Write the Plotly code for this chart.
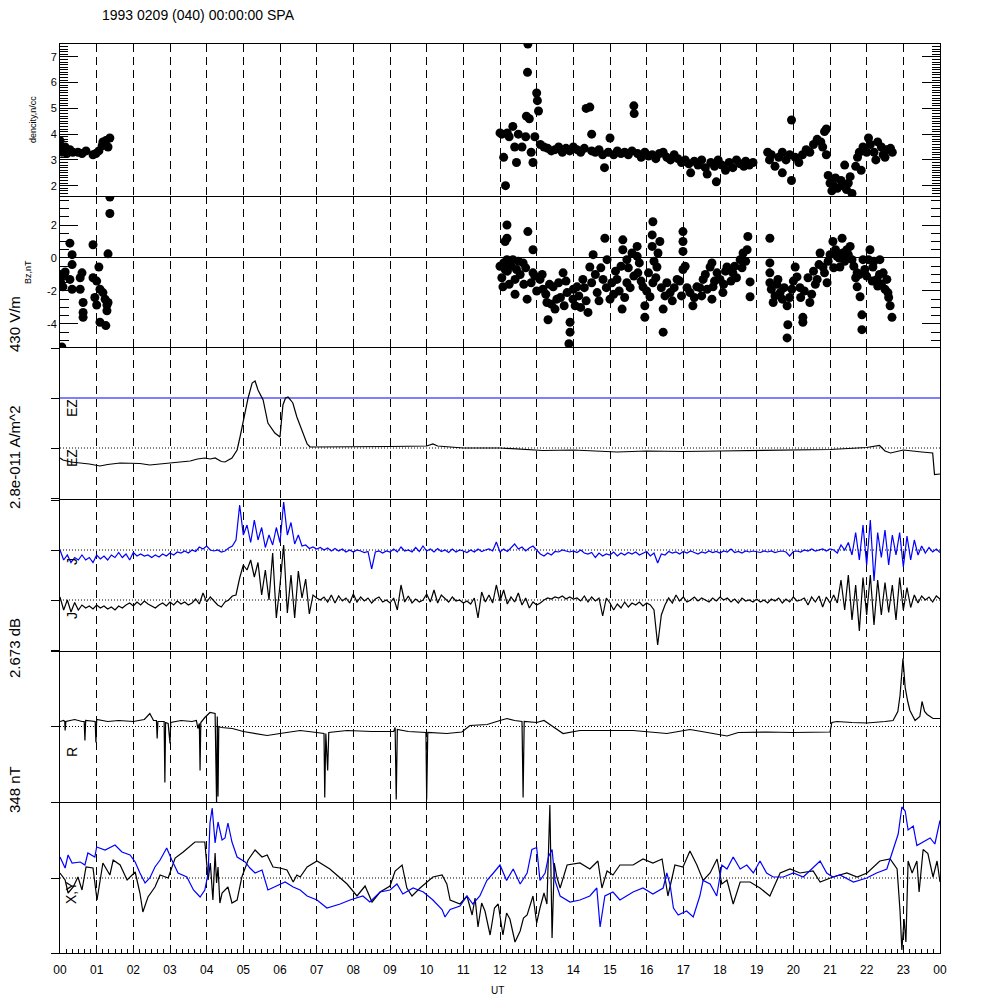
import plotly.graph_objects as go

# ---------------- data ----------------
hour_labels = ["00", "01", "02", "03", "04", "05", "06", "07", "08", "09", "10", "11",
               "12", "13", "14", "15", "16", "17", "18", "19", "20", "21", "22", "23", "00"]
hour_ticks = list(range(25))

# density, n/cc  (UT hours, value)
dens_t = [0.0, 0.0, 0.05, 0.14, 0.19, 0.27, 0.35, 0.49, 0.6, 0.71, 0.9, 0.98, 1.06, 1.15, 1.17, 1.25, 1.31, 1.36,
          12.0, 12.05, 12.1, 12.15, 12.2, 12.25, 12.35, 12.4, 12.45, 12.5, 12.6, 12.7, 12.72, 12.75, 12.76, 12.8,
          12.85, 12.9, 12.95, 13.0, 13.02, 13.05, 13.1, 13.2, 13.3, 13.4, 13.5, 13.6, 13.7, 13.8, 13.9, 14.0,
          14.1, 14.2, 14.3, 14.35, 14.45, 14.5, 14.5, 14.6, 14.7, 14.8, 14.85, 14.95, 15.0, 15.1, 15.2, 15.3,
          15.4, 15.5, 15.6, 15.65, 15.66, 15.75, 15.85, 15.95, 16.05, 16.15, 16.25, 16.35, 16.45, 16.55, 16.65,
          16.75, 16.85, 16.95, 17.05, 17.15, 17.2, 17.3, 17.4, 17.5, 17.6, 17.65, 17.75, 17.85, 17.9, 17.95,
          18.05, 18.15, 18.25, 18.35, 18.45, 18.55, 18.65, 18.7, 18.8, 18.9,
          19.3, 19.35, 19.4, 19.5, 19.6, 19.7, 19.7, 19.8, 19.9, 19.95, 19.95, 20.05, 20.15, 20.25, 20.35, 20.45,
          20.55, 20.65, 20.75, 20.8, 20.85, 20.9, 20.9,
          20.95, 21.0, 21.05, 21.1, 21.15, 21.2, 21.3, 21.35, 21.4, 21.45, 21.5, 21.55, 21.6,
          21.7, 21.75, 21.8, 21.85, 21.9, 22.0, 22.05, 22.1, 22.2, 22.25, 22.3, 22.4, 22.45, 22.5, 22.55, 22.65, 22.7]
dens_v = [3.75, 3.45, 3.3, 3.5, 3.25, 3.4, 3.3, 3.3, 3.25, 3.35, 3.2, 3.25, 3.35, 3.55, 3.7, 3.75, 3.5, 3.85,
          4.05, 4.0, 3.1, 2.0, 4.05, 3.9, 4.3, 3.5, 2.9, 4.0, 3.5, 3.9, 4.7, 6.4, 7.5, 4.6,
          3.3, 2.9, 3.9, 5.6, 5.3, 4.9, 3.6, 3.5, 3.45, 3.35, 3.4, 3.5, 3.3, 3.45, 3.35, 3.5,
          3.4, 3.3, 3.45, 5.0, 5.05, 4.0, 3.35, 3.3, 3.4, 3.2, 2.7, 3.3, 3.85, 3.2, 3.35, 3.25,
          3.3, 3.2, 3.35, 5.1, 4.8, 3.25, 3.1, 3.3, 3.15, 3.2, 3.05, 3.25, 3.3, 3.1, 3.0,
          3.2, 3.05, 2.9, 3.0, 2.85, 2.5, 2.95, 2.8, 3.0, 2.7, 2.45, 2.9, 2.75, 2.15, 3.0,
          2.8, 2.6, 2.9, 2.7, 3.0, 2.85, 2.75, 2.95, 2.8, 2.9,
          3.3, 3.0, 3.2, 2.75, 3.1, 3.3, 2.5, 3.0, 3.2, 4.55, 2.2, 3.1, 2.9, 3.2, 3.4, 3.3,
          3.6, 3.8, 3.7, 3.5, 4.1, 4.2, 3.2,
          2.4, 2.1, 1.8, 2.0, 2.3, 1.9, 2.2, 2.0, 2.8, 1.85, 2.1, 2.35, 1.7,
          2.75, 3.1, 3.3, 2.6, 3.5, 3.3, 3.85, 3.6, 3.3, 3.0, 3.7, 3.5, 3.2, 3.1, 3.4, 3.45, 3.3]

# Bz, nT
bz_t = [0.0, 0.02, 0.05, 0.08, 0.1, 0.14, 0.27, 0.27, 0.33, 0.33, 0.33, 0.55, 0.55, 0.6, 0.63, 0.63, 0.63,
        0.9, 0.9, 0.95, 1.0, 1.0, 1.06, 1.09, 1.09, 1.17, 1.23, 1.25, 1.28, 1.28, 1.31, 1.31, 1.36, 1.36,
        12.19, 12.19, 12.14, 12.19, 12.14, 12.08, 12.35, 12.41, 12.41, 12.63, 12.76, 12.9, 12.74, 12.9, 13.09,
        13.17, 13.28, 13.31, 13.55, 13.45, 13.72, 13.83, 13.91, 13.91, 13.88, 13.99, 14.1, 14.26, 14.4, 14.45,
        14.54, 14.65, 14.81, 14.86, 14.92, 15.0, 15.19, 15.33, 15.35, 15.35, 15.46, 15.46, 15.74, 15.74, 15.76,
        15.9, 15.95, 15.95, 16.17, 16.15, 16.15, 16.36, 16.31, 16.28, 16.17, 16.09, 16.45, 16.45, 16.64, 16.83,
        16.99, 16.99, 16.99, 16.99, 17.18, 17.26, 17.37, 17.54, 17.78, 17.92,
        17.73, 17.81, 17.78, 18.0, 18.08, 18.19, 18.35, 18.55, 18.63, 18.74, 18.76, 18.82, 18.82,
        19.36, 19.36, 19.36, 19.36, 19.45, 19.58, 19.64, 19.83, 19.85, 19.83, 19.96, 20.05, 20.1, 20.18, 20.26,
        20.26, 20.45, 20.65, 20.73, 20.81, 20.92, 21.08, 21.19, 21.27, 21.33, 21.46, 21.55, 21.6, 21.74, 21.74,
        21.82, 21.87, 21.87, 21.9, 22.09, 22.17, 22.28, 22.36, 22.45, 22.55, 22.58, 22.64, 22.69,
        12.0, 12.05, 12.1, 12.2, 12.25, 12.3, 12.45, 12.5, 12.55, 12.65, 12.7, 12.85, 12.95, 13.0, 13.15, 13.25,
        13.35, 13.4, 13.5, 13.6, 13.65, 13.75, 13.8, 14.0, 14.05, 14.15, 14.2, 14.3, 14.35, 14.5, 14.6, 14.7,
        14.75, 14.9, 15.05, 15.1, 15.15, 15.25, 15.3, 15.4, 15.5, 15.55, 15.6, 15.65, 15.8, 15.85, 16.0, 16.05,
        16.2, 16.25, 16.4, 16.5, 16.55, 16.7, 16.75, 16.9, 16.95, 17.05, 17.1, 17.3, 17.45, 17.5, 17.6, 17.65,
        17.85, 18.1, 18.15, 18.3, 18.4, 18.45, 18.6, 18.7, 19.4, 19.5, 19.55, 19.7, 19.75, 19.9, 20.0, 20.2,
        20.3, 20.4, 20.5, 20.55, 20.6, 20.7, 20.85, 20.95, 21.0, 21.1, 21.15, 21.25, 21.35, 21.4, 21.5, 21.65,
        21.7, 21.8, 21.95, 22.0, 22.05, 22.15, 22.2, 22.3, 22.35, 22.4, 22.5, 22.6]
bz_v = [-1.0, -1.5, -5.4, -1.75, -1.1, -0.85, 0.9, -1.3, 0.2, -0.4, -1.9, -1.2, -1.9, -0.9, -2.7, -3.3, -3.6,
        0.8, -1.2, -2.4, -1.4, -2.85, -0.55, -1.9, -3.9, -2.1, -2.5, -4.1, -2.85, -3.2, 0.25, -2.7, 2.7, 3.7,
        2.0, 1.2, 1.0, -0.1, -0.7, -1.75, -0.1, -1.3, -2.2, -0.3, 1.6, 0.5, -2.5, -0.9, -1.3,
        -1.9, -2.7, -3.75, -2.5, -1.75, -0.9, -2.1, -3.9, -4.5, -5.2, -2.5, -1.75, -1.3, -3.3, -0.55,
        0.2, -2.1, -1.3, 1.2, -0.1, -2.5, -1.3, -3.1, 1.1, 0.5, -0.1, -1.5, 0.7, 0.1, -0.9,
        -1.75, -2.9, -3.6, 2.2, 1.4, 0.7, 1.0, 0.3, -0.55, -1.5, -2.35, -3.1, -4.5, -2.1, -1.3,
        -0.7, 1.6, 1.0, 0.4, -2.1, -2.9, -1.75, -1.3, -0.3, -0.9,
        -0.55, -1.75, -2.5, -1.3, -2.1, -0.55, -0.9, -0.1, 0.3, 0.5, 1.3, -1.45, -2.35,
        1.2, -0.3, -0.9, -1.5, -2.7, -1.3, -2.1, -2.9, -4.05, -4.85, -1.9, -0.55, -1.15, -1.8, -3.6,
        -3.9, -2.7, -1.3, 0.3, -0.55, -1.5, 1.0, 0.1, -0.55, 1.2, 0.5, 0.7, -0.1, -0.9, -1.75,
        -2.35, -3.45, -4.35, -0.1, 0.5, -0.55, -1.3, -0.1, -0.9, -1.3, -2.1, -2.9, -3.6,
        -0.5, -1.2, -0.3, -0.8, -1.6, -0.5, -0.7, -0.2, -1.0, -1.6, -0.6, -1.5, -1.1, -2.0, -1.0, -2.2,
        -1.6, -2.8, -3.1, -1.5, -2.4, -2.9, -1.4, -1.9, -2.9, -2.3, -3.0, -1.8, -2.6, -1.5, -1.0, -2.6,
        -0.6, -1.8, -1.5, -2.2, -0.8, -2.0, -0.5, -2.4, -0.6, -1.8, 0.3, -1.1, -0.3, -1.4, -2.0, -0.9,
        -0.2, -1.2, -1.8, -2.3, -1.5, -2.6, -1.8, -1.4, -2.3, -0.5, -1.8, -2.4, -1.8, -2.3, -1.0, -1.9,
        -1.4, -1.6, -0.8, -1.4, -0.5, -1.2, -0.6, -0.2, -1.9, -2.3, -1.6, -2.5, -1.8, -2.4, -1.4, -2.4,
        -2.0, -1.2, -2.2, -0.8, -1.6, -0.4, -0.9, -0.2, 0.2, -0.6, 0.5, 0.0, 0.3, -0.2, 0.2, -0.5,
        -1.2, -1.0, -0.7, -1.1, -0.1, -1.4, -0.2, -1.7, -1.0, -1.6, -1.9, -2.4]

# EZ (panel units, dotted reference = 0)
ez_t = [0.0, 0.08, 0.3, 0.55, 0.8, 1.09, 1.3, 1.64, 1.9, 2.18, 2.45, 2.7, 3.0, 3.3, 3.55, 3.75, 3.95, 4.1,
        4.23, 4.4, 4.5, 4.69, 4.83, 4.91, 5.05, 5.13, 5.24, 5.32, 5.4, 5.54, 5.67, 5.86, 6.0, 6.04, 6.08,
        6.15, 6.22, 6.3, 6.35, 6.46, 6.6, 6.74, 6.82, 7.36, 8.0, 9.0, 10.0, 10.17, 10.3, 11.0, 12.0, 13.17,
        14.0, 14.45, 15.19, 16.0, 17.0, 18.0, 19.0, 20.0, 21.0, 22.0, 22.35, 22.5, 22.65, 23.0, 23.2, 23.5,
        23.8, 23.85, 24.0]
ez_v = [-0.2, -0.24, -0.28, -0.3, -0.32, -0.36, -0.33, -0.3, -0.3, -0.31, -0.34, -0.32, -0.3, -0.28, -0.26,
        -0.22, -0.2, -0.22, -0.2, -0.27, -0.28, -0.2, -0.04, 0.22, 0.7, 1.0, 1.3, 1.34, 1.16, 0.96, 0.5, 0.3,
        0.22, 0.5, 0.86, 1.0, 1.02, 0.95, 0.9, 0.62, 0.36, 0.08, 0.02, 0.02, 0.03, 0.03, 0.04, 0.08, 0.04,
        0.0, 0.0, -0.05, -0.04, -0.05, -0.08, -0.06, -0.07, -0.06, -0.05, -0.04, -0.03, 0.01, 0.05, -0.06,
        -0.1, -0.04, -0.06, -0.08, -0.1, -0.53, -0.52]
ez_blue_t = [0.0, 24.0]
ez_blue_v = [1.0, 1.0]

# J (panel units, each trace relative to its own dotted reference)
j_t = [round(i * 0.1, 1) for i in range(241)]
j_blue_v = [0.0, -0.2, -0.1, -0.25, -0.15, -0.2, -0.1, -0.2, -0.15, -0.25,
            -0.1, -0.18, -0.12, -0.2, -0.1, -0.15, -0.05, -0.15, -0.08, -0.2,
            -0.05, -0.12, -0.08, -0.12, -0.1, -0.15, -0.1, -0.14, -0.08, -0.12,
            -0.06, -0.1, -0.04, -0.06, -0.02, -0.06, 0.0, -0.03, 0.06, 0.02,
            0.08, 0.0, -0.02, 0.0, -0.04, -0.02, 0.04, 0.08, 0.2, 0.9,
            0.3, 0.5, 0.15, 0.6, 0.2, 0.45, 0.05, 0.3, 0.1, 0.45,
            0.15, 0.96, 0.3, 0.55, 0.12, 0.3, 0.08, 0.1, 0.03, 0.06,
            0.02, 0.05, 0.0, 0.04, -0.02, 0.03, -0.02, 0.02, -0.04, 0.0,
            -0.04, 0.0, -0.02, -0.05, -0.03, -0.38, -0.04, -0.02, -0.06, -0.02,
            -0.04, 0.02, -0.04, 0.06, -0.02, 0.0, -0.04, 0.05, -0.03, 0.08,
            -0.02, 0.02, -0.04, 0.03, -0.03, 0.0, -0.05, 0.02, -0.04, 0.0,
            -0.02, -0.05, 0.0, -0.04, 0.02, -0.03, 0.0, 0.02, -0.02, 0.16,
            -0.04, 0.02, -0.03, 0.04, 0.12, 0.02, 0.06, -0.02, 0.04, 0.08,
            0.0, -0.08, -0.12, -0.06, -0.1, -0.03, -0.04, 0.0, -0.02, -0.04,
            -0.02, -0.05, 0.0, -0.06, -0.08, -0.05, -0.15, -0.06, -0.12, -0.08,
            -0.1, -0.04, -0.12, -0.06, -0.1, -0.05, -0.08, -0.04, -0.1, -0.06,
            -0.03, -0.12, -0.06, -0.26, -0.08, -0.1, -0.03, -0.06, -0.04, -0.08,
            -0.03, -0.06, -0.02, -0.05, -0.08, -0.04, -0.06, -0.02, -0.05, -0.03,
            -0.06, -0.02, -0.04, 0.02, -0.05, -0.03, -0.06, -0.02, -0.04, -0.02,
            -0.03, -0.05, -0.02, -0.04, -0.02, -0.05, -0.03, -0.02, -0.04, -0.12,
            -0.03, -0.02, -0.04, 0.0, -0.02, 0.02, -0.02, 0.0, 0.02, -0.02,
            0.02, 0.0, -0.06, 0.1, 0.0, 0.15, -0.1, 0.35, -0.2, 0.5,
            -0.3, 0.6, -0.62, 0.35, -0.15, 0.4, -0.3, 0.3, -0.1, 0.35,
            -0.34, 0.28, -0.2, 0.2, -0.1, 0.08, -0.06, 0.05, -0.04, 0.02,
            -0.05]
j_black_v = [0.06, -0.2, 0.0, -0.24, -0.05, -0.2, -0.1, -0.16, -0.12, -0.18,
             -0.1, -0.16, -0.12, -0.18, -0.14, -0.2, -0.12, -0.16, -0.1, -0.06,
             -0.12, -0.04, -0.1, -0.02, -0.08, -0.12, -0.16, -0.1, -0.06, -0.12,
             -0.04, -0.1, -0.02, -0.08, -0.04, -0.1, -0.06, 0.02, -0.08, 0.14,
             -0.04, 0.06, -0.02, -0.1, -0.14, -0.04, 0.0, 0.08, 0.1, 0.44,
             0.7, 0.6, 0.8, 0.46, 0.75, 0.1, 0.6, 0.0, 0.94, -0.36,
             0.3, 1.1, -0.26, 0.5, -0.36, 0.58, 0.04, 0.42, -0.28, 0.1,
             0.04, 0.0, 0.06, -0.04, 0.1, -0.06, 0.08, -0.02, 0.04, -0.06,
             0.12, -0.04, 0.06, -0.02, 0.04, -0.06, 0.02, 0.06, -0.04, 0.0,
             -0.06, 0.04, -0.2, 0.3, -0.04, 0.08, -0.06, 0.02, -0.04, 0.0,
             0.12, -0.04, 0.2, -0.06, 0.1, 0.02, -0.04, 0.06, -0.02, 0.0,
             -0.06, -0.02, -0.08, 0.04, -0.36, 0.16, -0.04, 0.1, -0.06, 0.3,
             -0.02, 0.2, -0.08, 0.06, -0.04, 0.14, -0.1, 0.04, -0.16, -0.04,
             -0.1, -0.06, 0.0, 0.04, 0.02, 0.06, 0.04, 0.08, 0.02, 0.06,
             0.02, 0.04, -0.02, 0.08, -0.04, 0.06, -0.02, 0.04, -0.32, 0.04,
             -0.06, -0.2, -0.08, -0.16, -0.04, -0.14, -0.06, -0.1, -0.04, -0.12,
             -0.06, -0.1, -0.2, -0.9, -0.3, -0.1, 0.04, -0.06, 0.1, -0.02,
             0.06, -0.04, 0.0, 0.06, -0.02, 0.04, 0.0, -0.04, 0.04, -0.02,
             0.06, 0.0, 0.04, -0.04, 0.02, -0.06, 0.04, -0.02, 0.0, -0.04,
             0.02, -0.04, 0.0, -0.06, 0.02, -0.02, 0.04, -0.06, 0.02, -0.04,
             0.06, -0.02, 0.0, 0.04, -0.1, 0.06, -0.04, 0.08, -0.14, 0.06,
             -0.06, 0.1, -0.06, 0.4, -0.2, 0.5, -0.4, 0.3, -0.62, 0.45,
             -0.3, 0.5, -0.5, 0.4, -0.3, 0.35, -0.25, 0.3, -0.4, 0.45,
             -0.2, 0.25, -0.15, 0.1, -0.06, 0.08, 0.0, 0.06, -0.04, 0.08,
             0.02]

# R (panel units, dotted reference = 0)
r_t = [0.0, 0.1, 0.13, 0.14, 0.16, 0.4, 0.6, 0.66, 0.68, 0.7, 0.96, 0.98, 1.0, 1.3, 1.6, 2.0, 2.3, 2.45,
       2.55, 2.63, 2.65, 2.67, 2.84, 2.86, 2.88, 2.95, 3.0, 3.02, 3.3, 3.6, 3.72, 3.76, 3.8, 3.82, 3.84,
       3.95, 4.09, 4.23, 4.27, 4.29, 4.31, 4.33, 4.4, 4.7, 5.0, 5.65, 6.0, 6.55, 7.0, 7.2, 7.22, 7.25, 7.3,
       7.33, 7.83, 8.5, 9.1, 9.14, 9.17, 9.2, 9.5, 9.98, 10.0, 10.03, 10.55, 10.96, 11.18, 11.65, 12.0,
       12.19, 12.4, 12.6, 12.63, 12.66, 13.0, 13.2, 13.36, 13.72, 14.18, 15.08, 15.63, 16.55, 17.18, 17.5,
       18.19, 18.5, 19.28, 20.0, 21.0, 21.05, 21.19, 21.6, 22.01, 22.5, 22.72, 22.85, 22.91, 22.99, 23.05,
       23.12, 23.18, 23.32, 23.45, 23.51, 23.58, 23.65, 23.81, 24.0]
r_v = [0.1, 0.12, 0.1, -0.08, 0.1, 0.14, 0.1, 0.1, -0.28, 0.12, 0.1, -0.32, 0.14, 0.1, 0.12, 0.1, 0.14, 0.26,
       0.12, 0.12, -0.24, 0.1, 0.1, -1.12, 0.08, 0.06, -0.34, 0.08, 0.12, 0.1, 0.12, -0.04, 0.06, -0.88, 0.08,
       0.18, 0.28, 0.26, -1.54, 0.2, -1.4, 0.0, -0.02, -0.04, -0.1, -0.18, -0.14, -0.08, -0.12, -0.14, -1.42,
       -0.14, -0.88, -0.12, -0.08, -0.1, -0.1, -0.02, -1.46, -0.06, -0.1, -0.12, -1.46, -0.12, -0.14, -0.11,
       0.02, 0.04, 0.12, 0.16, 0.12, 0.1, -1.42, 0.1, 0.08, 0.12, 0.04, -0.14, -0.08, -0.08, -0.08, -0.14,
       -0.06, -0.1, -0.19, -0.12, -0.11, -0.12, -0.11, 0.08, 0.1, 0.08, 0.07, 0.1, 0.12, 0.3, 0.62, 1.36, 0.78,
       0.5, 0.32, 0.12, 0.2, 0.5, 0.3, 0.24, 0.16, 0.16]

# X, Y (panel units, dotted reference = 0)
x_t = [0.0, 0.14, 0.22, 0.36, 0.49, 0.6, 0.71, 0.9, 1.01, 1.17, 1.36, 1.45, 1.64, 1.83, 2.05, 2.18, 2.26, 2.4,
       2.59, 2.73, 2.95, 3.14, 3.36, 3.68, 3.95, 4.04, 4.1, 4.17, 4.23, 4.27, 4.31, 4.36, 4.42, 4.58, 4.69,
       4.83, 4.96, 5.13, 5.32, 5.51, 5.65, 5.81, 6.0, 6.19, 6.36, 6.46, 6.55, 6.74, 7.01, 7.36, 7.83, 8.1,
       8.32, 8.51, 8.73, 9.0, 9.14, 9.33, 9.46, 9.6, 9.82, 10.04, 10.17, 10.42, 10.55, 10.64, 10.91, 11.1,
       11.24, 11.32, 11.4, 11.5, 11.59, 11.73, 11.85, 11.95, 12.08, 12.18, 12.27, 12.41, 12.55, 12.64, 12.74,
       12.9, 13.0, 13.09, 13.2, 13.28, 13.36, 13.42, 13.48, 13.55, 13.64, 13.83, 14.18, 14.45, 14.67, 14.78,
       14.92, 15.08, 15.27, 15.63, 15.9, 16.17, 16.42, 16.58, 16.77, 16.99, 17.18, 17.37, 17.54, 17.73,
       17.92, 18.05, 18.19, 18.36, 18.55, 18.82, 19.09, 19.36, 19.64, 19.91, 20.18, 20.54, 20.73, 21.08,
       21.46, 21.74, 22.01, 22.36, 22.64, 22.83, 22.91, 22.96, 23.02, 23.07, 23.13, 23.24, 23.37, 23.43,
       23.54, 23.67, 23.81, 23.92, 24.0]
x_v = [0.1, -0.04, -0.3, -0.18, 0.02, -0.24, 0.22, 0.2, -0.44, 0.3, 0.06, 0.36, 0.26, -0.04, 0.12, -0.3,
       -0.68, -0.38, -0.18, 0.06, 0.0, 0.4, 0.52, 0.72, 0.72, -0.04, 0.3, -0.44, 0.5, -0.1, 0.22, -0.5, -0.3,
       -0.18, -0.5, -0.44, 0.02, 0.36, 0.56, 0.42, 0.46, 0.22, 0.2, 0.16, -0.08, 0.06, 0.02, 0.22, 0.34, 0.18,
       -0.12, -0.36, -0.16, -0.48, -0.28, -0.16, 0.14, 0.26, -0.2, -0.36, -0.2, -0.05, 0.02, 0.06, -0.12,
       -0.44, -0.52, -0.36, -0.74, -0.4, -0.98, -0.5, -0.66, -1.14, -0.6, -0.52, -1.14, -0.7, -0.82, -1.28,
       -1.06, -0.8, -0.74, -0.36, -0.9, -0.6, -0.3, -0.52, 1.46, -1.2, 0.3, 0.02, -0.2, 0.26, 0.3, 0.18, 0.34,
       -0.2, 0.14, 0.06, 0.26, 0.26, 0.38, 0.3, 0.38, -0.36, 0.26, 0.22, 0.54, 0.26, -0.05, 0.1, 0.38, -0.12,
       -0.04, -0.52, -0.08, -0.08, -0.2, -0.36, 0.1, 0.18, 0.1, 0.14, -0.08, 0.02, 0.1, 0.02, 0.1, 0.34, 0.38,
       0.18, -0.66, -1.44, -0.82, -1.28, 0.34, 0.1, 0.34, -0.28, 0.57, 0.49, 0.02, 0.34, -0.08]
y_t = [0.0, 0.14, 0.22, 0.33, 0.55, 0.68, 0.76, 0.95, 1.0, 1.23, 1.5, 1.69, 1.91, 2.05, 2.18, 2.32, 2.45,
       2.59, 2.73, 2.91, 3.05, 3.22, 3.46, 3.64, 3.82, 3.95, 4.04, 4.09, 4.15, 4.23, 4.31, 4.42, 4.5, 4.58,
       4.69, 4.83, 5.05, 5.18, 5.32, 5.51, 5.67, 5.86, 6.0, 6.14, 6.36, 6.55, 6.74, 7.01, 7.28, 7.64, 7.91,
       8.26, 8.45, 8.73, 9.0, 9.19, 9.35, 9.63, 9.91, 10.17, 10.42, 10.5, 10.64, 10.91, 11.1, 11.26, 11.45,
       11.64, 11.82, 12.0, 12.18, 12.36, 12.55, 12.74, 12.87, 13.0, 13.09, 13.23, 13.32, 13.42, 13.5, 13.64,
       13.91, 14.18, 14.45, 14.64, 14.73, 14.86, 15.08, 15.27, 15.45, 15.63, 15.9, 16.17, 16.45, 16.55,
       16.64, 16.73, 16.86, 17.09, 17.27, 17.45, 17.54, 17.73, 17.91, 18.05, 18.19, 18.36, 18.55, 18.73,
       18.91, 19.09, 19.27, 19.45, 19.73, 20.0, 20.27, 20.54, 20.73, 20.91, 21.08, 21.27, 21.64, 22.0,
       22.27, 22.55, 22.73, 22.86, 22.96, 23.05, 23.13, 23.27, 23.37, 23.54, 23.73, 23.86, 24.0]
y_v = [0.42, 0.2, 0.46, 0.3, 0.32, 0.26, 0.5, 0.42, 0.62, 0.56, 0.66, 0.52, 0.46, 0.32, 0.1, -0.1, 0.0,
       0.22, 0.36, 0.6, 0.36, 0.1, 0.02, -0.24, -0.38, -0.24, 0.1, 1.1, 1.4, 0.7, 1.12, 0.76, 0.8, 1.1, 0.72,
       0.42, 0.32, 0.2, 0.1, 0.16, -0.24, -0.18, -0.14, -0.08, -0.18, -0.24, -0.36, -0.44, -0.6, -0.52,
       -0.44, -0.36, -0.48, -0.28, -0.24, -0.12, -0.32, -0.2, -0.28, -0.44, -0.63, -0.78, -0.63, -0.56,
       -0.36, -0.52, -0.36, -0.05, 0.1, 0.26, -0.05, 0.18, -0.12, 0.1, 0.57, 0.61, -0.05, 0.1, 0.42, 0.57,
       -0.05, -0.36, -0.48, -0.44, -0.36, -0.2, -0.98, -0.36, -0.28, -0.44, -0.36, -0.28, -0.2, -0.32, -0.2,
       0.1, -0.14, -0.6, -0.74, -0.66, -0.78, -0.36, -0.05, -0.12, -0.36, 0.26, 0.18, 0.42, 0.18, 0.26, 0.1,
       0.34, 0.1, 0.02, 0.02, 0.1, 0.02, 0.22, 0.34, 0.1, 0.02, 0.06, -0.08, 0.0, 0.1, 0.18, 0.57, 0.88,
       1.42, 1.34, 0.96, 1.04, 0.65, 0.72, 0.8, 0.68, 1.15]

# ---------------- layout helpers ----------------
PANEL_EDGES_PX = [44, 196, 347, 499, 651, 802, 953]
FIG_PX = 1000
J_BLUE_OFFSET = 1.0
FONT = "Liberation Sans, Arial, Helvetica, sans-serif"
BLUE = "#0000ff"


def ydom(i):
    return [1 - PANEL_EDGES_PX[i + 1] / FIG_PX, 1 - PANEL_EDGES_PX[i] / FIG_PX]


def ax_name(kind, i):
    return kind if i == 1 else f"{kind}{i}"


fig = go.Figure()

line_k = dict(color="black", width=1.2)
line_b = dict(color=BLUE, width=1.2)

fig.add_trace(go.Scatter(x=dens_t, y=dens_v, mode="markers", marker=dict(size=9, color="black"),
                         xaxis="x", yaxis="y", showlegend=False))
fig.add_trace(go.Scatter(x=bz_t, y=bz_v, mode="markers", marker=dict(size=9, color="black"),
                         xaxis="x2", yaxis="y2", showlegend=False))
fig.add_trace(go.Scatter(x=ez_blue_t, y=ez_blue_v, mode="lines", line=dict(color=BLUE, width=1.2),
                         xaxis="x3", yaxis="y3", showlegend=False))
fig.add_trace(go.Scatter(x=ez_t, y=ez_v, mode="lines", line=line_k, xaxis="x3", yaxis="y3", showlegend=False))
fig.add_trace(go.Scatter(x=j_t, y=[v + J_BLUE_OFFSET for v in j_blue_v], mode="lines", line=line_b,
                         xaxis="x4", yaxis="y4", showlegend=False))
fig.add_trace(go.Scatter(x=j_t, y=j_black_v, mode="lines", line=line_k,
                         xaxis="x4", yaxis="y4", showlegend=False))
fig.add_trace(go.Scatter(x=r_t, y=r_v, mode="lines", line=line_k, xaxis="x5", yaxis="y5", showlegend=False))
fig.add_trace(go.Scatter(x=x_t, y=x_v, mode="lines", line=line_k, xaxis="x6", yaxis="y6", showlegend=False))
fig.add_trace(go.Scatter(x=y_t, y=y_v, mode="lines", line=line_b, xaxis="x6", yaxis="y6", showlegend=False))

layout = dict(
    width=1000, height=1000, margin=dict(l=0, r=0, t=0, b=0, pad=0), autosize=False,
    paper_bgcolor="white", plot_bgcolor="white",
    font=dict(family=FONT, color="black", size=11),
    showlegend=False,
)

for i in range(1, 7):
    xa = dict(domain=[0.06, 0.94], range=[0, 24], anchor=ax_name("y", i), automargin=False,
              showline=True, mirror=(i == 1), linecolor="black", linewidth=1,
              showgrid=True, gridcolor="black", gridwidth=1, griddash="8px,5px",
              zeroline=False, tickmode="array", tickvals=hour_ticks,
              ticks="", showticklabels=False, fixedrange=True)
    if i > 1:
        xa["matches"] = "x"
    if i == 6:
        xa.update(ticktext=hour_labels, showticklabels=True, ticks="inside", ticklen=6,
                  tickcolor="black", ticklabelstandoff=6,
                  tickfont=dict(family=FONT, size=12, color="black"),
                  minor=dict(tickmode="linear", tick0=0, dtick=1 / 6, ticks="inside", ticklen=4,
                             tickcolor="black", showgrid=False))
    layout[ax_name("xaxis", i)] = xa

yaxes = {
    1: dict(range=[1.6, 7.5], tickvals=[2, 3, 4, 5, 6, 7], ticks="inside", ticklen=18, showticklabels=True,
            mirror="ticks",
            minor=dict(tickmode="linear", tick0=0, dtick=0.1, ticks="inside", ticklen=8, tickcolor="black",
                       showgrid=False)),
    2: dict(range=[-5.4, 3.76], tickvals=[-4, -2, 0, 2], ticktext=["-4", "-2", "0", "2"], ticks="inside",
            ticklen=18, showticklabels=True, mirror="ticks", zeroline=True, zerolinecolor="black",
            zerolinewidth=1,
            minor=dict(tickmode="linear", tick0=0, dtick=0.5, ticks="inside", ticklen=9, tickcolor="black",
                       showgrid=False)),
    3: dict(range=[-1.02, 2.02], tickvals=[-1, 0, 1, 2], ticks="outside", ticklen=8, showticklabels=False),
    4: dict(range=[-1.02, 2.02], tickvals=[-1, 0, 1, 2], ticks="outside", ticklen=8, showticklabels=False),
    5: dict(range=[-1.51, 1.51], tickvals=[-1.51, 0, 1.51], ticks="outside", ticklen=8, showticklabels=False),
    6: dict(range=[-1.5, 1.52], tickvals=[-1.5, 0, 1.52], ticks="outside", ticklen=8, showticklabels=False),
}
for i in range(1, 7):
    ya = dict(domain=ydom(i - 1), anchor=ax_name("x", i), automargin=False, showline=True, mirror=True,
              linecolor="black", linewidth=1, showgrid=False, zeroline=False, tickcolor="black",
              tickmode="array", tickfont=dict(family=FONT, size=11, color="black"), fixedrange=True)
    ya.update(yaxes[i])
    layout[ax_name("yaxis", i)] = ya

fig.update_layout(**layout)

# dotted reference lines
dot = dict(color="black", width=1, dash="1px,2px")
for xr, yr, yv in [("x3", "y3", 0), ("x4", "y4", 0), ("x4", "y4", J_BLUE_OFFSET), ("x5", "y5", 0), ("x6", "y6", 0)]:
    fig.add_shape(type="line", xref=f"{xr} domain", x0=0, x1=1, yref=yr, y0=yv, y1=yv, line=dot, layer="below")


def px_x(x):
    return x / FIG_PX


def px_y(y):
    return 1 - y / FIG_PX


annots = [
    dict(text="1993 0209 (040) 00:00:00 SPA", x=px_x(100), y=px_y(15), xanchor="left", yanchor="middle",
         font=dict(size=14)),
    dict(text="UT", x=px_x(497), y=px_y(990), xanchor="center", yanchor="middle", font=dict(size=10)),
    dict(text="dencity,n/cc", x=px_x(33), y=px_y(120), textangle=-90, font=dict(size=9)),
    dict(text="Bz,nT", x=px_x(28), y=px_y(272), textangle=-90, font=dict(size=9)),
    dict(text="430 V/m", x=px_x(14), y=px_y(324), textangle=-90, font=dict(size=15)),
    dict(text="2.8e-011 A/m^2", x=px_x(14), y=px_y(457), textangle=-90, font=dict(size=15)),
    dict(text="2.673 dB", x=px_x(14), y=px_y(648), textangle=-90, font=dict(size=15)),
    dict(text="348 nT", x=px_x(14), y=px_y(790), textangle=-90, font=dict(size=15)),
    dict(text="EZ", x=px_x(72), y=px_y(408), textangle=-90, font=dict(size=14)),
    dict(text="EZ", x=px_x(72), y=px_y(458), textangle=-90, font=dict(size=14)),
    dict(text="J", x=px_x(72), y=px_y(562), textangle=-90, font=dict(size=14)),
    dict(text="J", x=px_x(72), y=px_y(616), textangle=-90, font=dict(size=14)),
    dict(text="R", x=px_x(72), y=px_y(752), textangle=-90, font=dict(size=14)),
    dict(text="X,Y", x=px_x(71), y=px_y(893), textangle=-90, font=dict(size=14)),
]
for a in annots:
    a.setdefault("xanchor", "center")
    a.setdefault("yanchor", "middle")
    fig.add_annotation(xref="paper", yref="paper", showarrow=False, **a)

fig.write_html("out.html", config={"displayModeBar": False},
               post_script="document.body.style.margin='0px';")
